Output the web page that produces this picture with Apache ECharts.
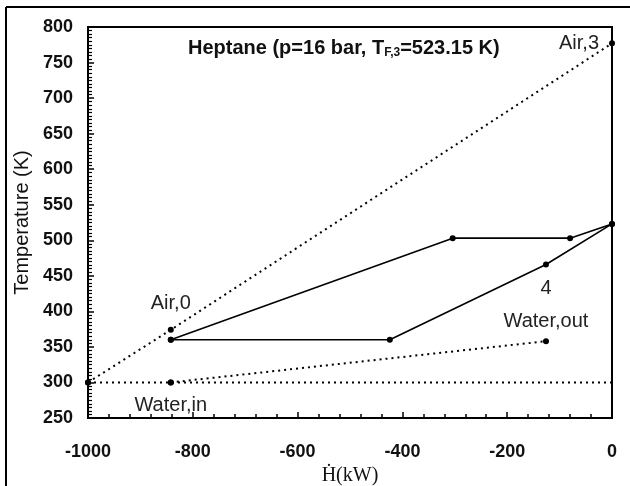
<!DOCTYPE html>
<html>
<head>
<meta charset="utf-8">
<script src="https://cdn.jsdelivr.net/npm/echarts@6/dist/echarts.min.js"></script>
<style>
  html, body { margin: 0; padding: 0; background: #fff; }
  #chart { width: 630px; height: 486px; }
</style>
</head>
<body>
<div id="chart"></div>
<script>
  // heat flow (kW) vs temperature (K)
  const airLine = [[-1000, 300], [-842, 374], [0, 777]];
  const ambientLine = [[-1000, 300], [-842, 300], [0, 300]];
  const waterLine = [[-842, 300], [-126, 358]];
  const fuelUpper = [[-842, 360], [-304, 503], [-80, 503], [0, 523]];
  const fuelLower = [[-842, 360], [-424, 360], [-126, 466], [0, 523]];

  const xTicks = { min: -1000, max: 0, interval: 200 };
  const yTicks = { min: 250, max: 800, interval: 50 };

  const tickFont = "'Liberation Sans', Arial, sans-serif";
  const labelFont = "'Liberation Sans', Arial, sans-serif";

  const chart = echarts.init(document.getElementById('chart'));

  const pointLabel = (text, position, distance) => ({
    show: true,
    formatter: text,
    position,
    distance,
    fontFamily: labelFont,
    fontSize: 20,
    color: '#222',
  });

  const dotted = { color: '#000', width: 2, type: [2, 4] };
  const solid = { color: '#000', width: 1.6 };

  const option = {
    backgroundColor: '#fff',
    animation: false,
    title: {
      text: '{a|Heptane (p=16 bar, T}{s|F,3}{a|=523.15 K)}',
      left: 183,
      top: 33,
      textStyle: {
        rich: {
          a: { fontFamily: tickFont, fontWeight: 'bold', fontSize: 20, color: '#111' },
          s: { fontFamily: tickFont, fontWeight: 'bold', fontSize: 12, color: '#111', verticalAlign: 'bottom', padding: [9, 0, 0, 0] },
        },
      },
    },
    grid: {
      left: 88,
      top: 27,
      right: 18,
      bottom: 68,
      outerBoundsMode: 'none',
      show: true,
      borderColor: '#000',
      borderWidth: 2,
    },
    xAxis: {
      type: 'value',
      ...xTicks,
      name: 'Ḣ(kW)',
      nameLocation: 'middle',
      nameGap: 45,
      nameTextStyle: { fontFamily: "'Liberation Serif', 'DejaVu Serif', serif", fontSize: 20, color: '#111' },
      axisLine: { onZero: false, lineStyle: { color: '#000', width: 2 } },
      axisTick: { inside: true, length: 6, lineStyle: { color: '#000', width: 1.5 } },
      minorTick: { show: true, splitNumber: 5, length: 4, lineStyle: { color: '#000', width: 1.5 } },
      splitLine: { show: false },
      axisLabel: {
        margin: 25,
        fontFamily: tickFont,
        fontWeight: 'bold',
        fontSize: 18,
        color: '#111',
        formatter: (v) => String(v),
      },
    },
    yAxis: {
      type: 'value',
      ...yTicks,
      name: 'Temperature (K)',
      nameLocation: 'middle',
      nameGap: 53,
      nameTextStyle: { fontFamily: labelFont, fontSize: 20, color: '#111' },
      axisLine: { onZero: false, lineStyle: { color: '#000', width: 2 } },
      axisTick: { inside: true, length: 6, lineStyle: { color: '#000', width: 1.5 } },
      minorTick: { show: true, splitNumber: 10, length: 4, lineStyle: { color: '#000', width: 1.2 } },
      splitLine: { show: false },
      axisLabel: {
        margin: 15,
        fontFamily: tickFont,
        fontWeight: 'bold',
        fontSize: 18,
        color: '#111',
        formatter: (v) => String(v),
      },
    },
    graphic: [
      { type: 'line', shape: { x1: 6, y1: 7, x2: 630, y2: 7 }, style: { stroke: '#000', lineWidth: 2 } },
      { type: 'line', shape: { x1: 6, y1: 7, x2: 6, y2: 486 }, style: { stroke: '#000', lineWidth: 2 } },
    ],
    series: [
      {
        type: 'line',
        data: ambientLine.map((p, i) => ({ value: p, symbolSize: i < 2 ? 6 : 0 })),
        symbol: 'circle',
        showAllSymbol: true,
        lineStyle: dotted,
        itemStyle: { color: '#000' },
      },
      {
        type: 'line',
        data: airLine.map((p, i) => ({
          value: p,
          label: i === 1 ? pointLabel('Air,0', 'top', 13) : i === 2 ? pointLabel('Air,3', 'left', 10) : undefined,
        })),
        symbol: 'circle',
        symbolSize: 6,
        showAllSymbol: true,
        lineStyle: dotted,
        itemStyle: { color: '#000' },
      },
      {
        type: 'line',
        data: waterLine.map((p, i) => ({
          value: p,
          label: i === 0 ? pointLabel('Water,in', 'bottom', 10) : pointLabel('Water,out', 'top', 7),
        })),
        symbol: 'circle',
        symbolSize: 6,
        lineStyle: dotted,
        itemStyle: { color: '#000' },
      },
      {
        type: 'line',
        data: fuelUpper,
        symbol: 'circle',
        symbolSize: 6,
        showAllSymbol: true,
        lineStyle: solid,
        itemStyle: { color: '#000' },
      },
      {
        type: 'line',
        data: fuelLower.map((p, i) => ({
          value: p,
          label: i === 2 ? pointLabel('4', 'bottom', 11) : undefined,
        })),
        symbol: 'circle',
        symbolSize: 6,
        showAllSymbol: true,
        lineStyle: solid,
        itemStyle: { color: '#000' },
      },
    ],
  };

  chart.setOption(option);
  window.addEventListener('resize', () => chart.resize());
</script>
</body>
</html>
